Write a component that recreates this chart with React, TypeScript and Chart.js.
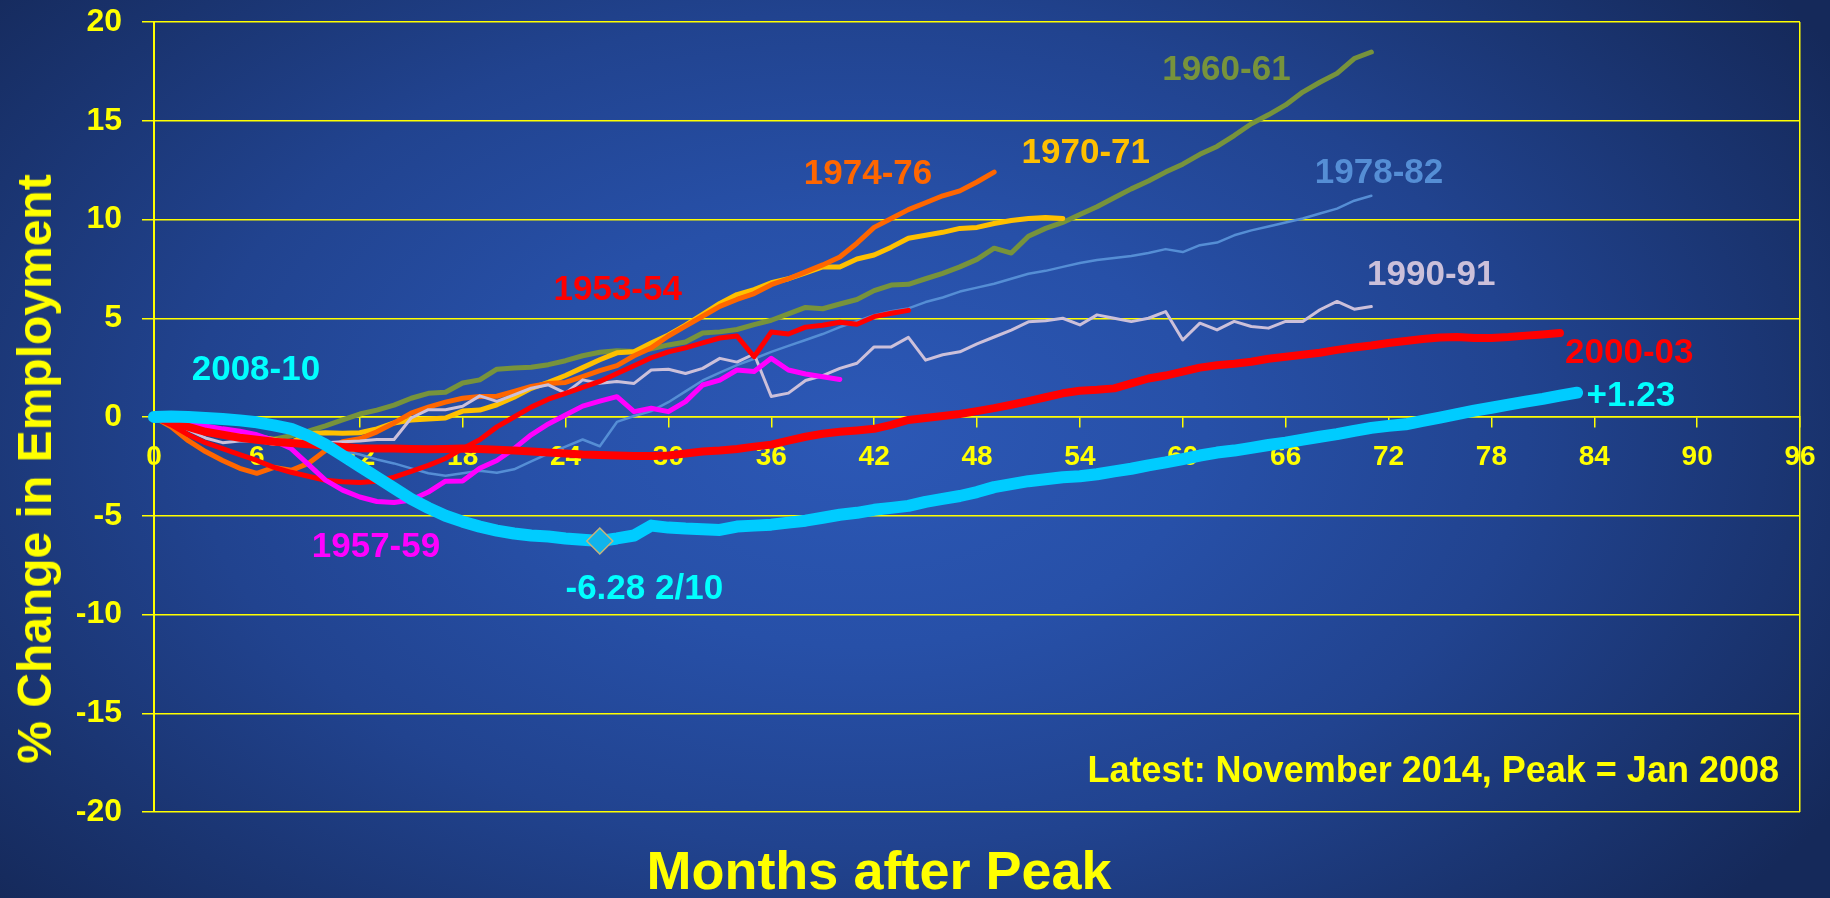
import React, { useEffect, useRef } from 'react';
import { Chart, registerables } from 'chart.js';

Chart.register(...registerables);

// ---- Data (percent change in employment, by months after peak) ----
const s2008_10 = [0, 0.02, 0, -0.05, -0.1, -0.17, -0.27, -0.42, -0.6, -0.95, -1.4, -1.95, -2.5, -3.05, -3.6, -4.15, -4.6, -5.0, -5.3, -5.55, -5.75, -5.9, -6.0, -6.05, -6.15, -6.22, -6.28, -6.15, -6.0, -5.5, -5.6, -5.65, -5.68, -5.72, -5.55, -5.5, -5.45, -5.35, -5.25, -5.1, -4.95, -4.85, -4.7, -4.6, -4.5, -4.3, -4.15, -4.0, -3.8, -3.55, -3.4, -3.25, -3.15, -3.05, -3.0, -2.9, -2.75, -2.62, -2.45, -2.3, -2.13, -1.95, -1.8, -1.7, -1.56, -1.42, -1.3, -1.15, -1.0, -0.87, -0.7, -0.55, -0.45, -0.37, -0.2, -0.03, 0.15, 0.32, 0.47, 0.63, 0.78, 0.92, 1.08, 1.23];
const s2000_03 = [0, -0.25, -0.5, -0.75, -0.9, -1.05, -1.15, -1.25, -1.32, -1.38, -1.45, -1.52, -1.58, -1.6, -1.6, -1.62, -1.63, -1.62, -1.6, -1.62, -1.66, -1.7, -1.75, -1.8, -1.85, -1.9, -1.93, -1.95, -1.97, -1.98, -1.95, -1.85, -1.75, -1.7, -1.62, -1.5, -1.4, -1.2, -1.0, -0.85, -0.75, -0.68, -0.6, -0.4, -0.15, -0.05, 0.05, 0.15, 0.3, 0.45, 0.62, 0.8, 1.0, 1.2, 1.33, 1.38, 1.45, 1.7, 1.95, 2.1, 2.3, 2.5, 2.62, 2.7, 2.8, 2.95, 3.05, 3.15, 3.25, 3.4, 3.52, 3.62, 3.75, 3.85, 3.95, 4.03, 4.05, 4.0, 4.0, 4.05, 4.12, 4.18, 4.25];
const s1953_54 = [0, -0.4, -0.9, -1.3, -1.6, -1.9, -2.2, -2.55, -2.8, -3.0, -3.2, -3.28, -3.32, -3.25, -3.05, -2.75, -2.45, -2.1, -1.6, -1.15, -0.5, 0.0, 0.5, 0.9, 1.2, 1.5, 1.8, 2.2, 2.6, 3.0, 3.3, 3.5, 3.75, 4.0, 4.1, 3.05, 4.3, 4.2, 4.55, 4.65, 4.8, 4.7, 5.08, 5.25, 5.4];
const s1957_59 = [0, -0.15, -0.3, -0.45, -0.6, -0.72, -0.9, -1.2, -1.6, -2.4, -3.2, -3.7, -4.05, -4.28, -4.33, -4.2, -3.8, -3.25, -3.24, -2.6, -2.2, -1.6, -0.9, -0.35, 0.1, 0.55, 0.8, 1.03, 0.27, 0.44, 0.27, 0.78, 1.62, 1.87, 2.38, 2.3, 2.97, 2.38, 2.18, 2.04, 1.9];
const s1960_61 = [0, -0.3, -0.55, -0.7, -0.85, -1.0, -1.1, -1.12, -0.95, -0.72, -0.45, -0.15, 0.15, 0.35, 0.6, 0.95, 1.2, 1.25, 1.72, 1.88, 2.42, 2.48, 2.52, 2.65, 2.85, 3.1, 3.28, 3.35, 3.32, 3.45, 3.65, 3.8, 4.25, 4.31, 4.43, 4.68, 4.9, 5.22, 5.55, 5.48, 5.72, 5.95, 6.4, 6.68, 6.72, 7.0, 7.27, 7.6, 7.98, 8.55, 8.3, 9.15, 9.55, 9.85, 10.25, 10.65, 11.1, 11.55, 11.95, 12.4, 12.8, 13.3, 13.7, 14.25, 14.85, 15.3, 15.8, 16.45, 16.95, 17.4, 18.15, 18.48];
const s1970_71 = [0, -0.3, -0.45, -0.55, -0.65, -0.8, -0.97, -1.15, -1.3, -0.85, -0.8, -0.82, -0.8, -0.6, -0.3, -0.15, -0.1, -0.05, 0.3, 0.35, 0.62, 1.0, 1.45, 1.75, 2.1, 2.5, 2.9, 3.25, 3.3, 3.75, 4.15, 4.65, 5.2, 5.75, 6.2, 6.45, 6.8, 7.0, 7.3, 7.6, 7.6, 8.0, 8.2, 8.6, 9.05, 9.2, 9.35, 9.55, 9.6, 9.8, 9.95, 10.05, 10.1, 10.05];
const s1974_76 = [0, -0.5, -1.2, -1.75, -2.2, -2.6, -2.85, -2.55, -2.7, -2.35, -1.7, -1.25, -1.1, -0.75, -0.3, 0.2, 0.5, 0.75, 0.95, 1.04, 1.05, 1.3, 1.55, 1.7, 1.75, 2.05, 2.35, 2.6, 3.1, 3.5, 4.1, 4.6, 5.1, 5.6, 5.95, 6.25, 6.7, 7.0, 7.35, 7.7, 8.1, 8.8, 9.6, 10.05, 10.5, 10.85, 11.2, 11.45, 11.9, 12.4];
const s1978_82 = [0, -0.2, -0.4, -0.6, -0.8, -0.95, -1.05, -1.15, -1.25, -1.35, -1.5, -1.7, -1.9, -2.15, -2.35, -2.6, -2.85, -2.97, -2.85, -2.72, -2.82, -2.65, -2.25, -1.85, -1.5, -1.14, -1.48, -0.25, 0.05, 0.3, 0.75, 1.3, 1.85, 2.25, 2.63, 2.95, 3.3, 3.6, 3.9, 4.2, 4.55, 4.85, 5.15, 5.35, 5.5, 5.82, 6.05, 6.35, 6.55, 6.75, 7.0, 7.25, 7.4, 7.6, 7.8, 7.95, 8.05, 8.15, 8.3, 8.5, 8.35, 8.7, 8.83, 9.2, 9.45, 9.65, 9.85, 10.05, 10.3, 10.55, 10.95, 11.2];
const s1990_91 = [0, -0.2, -0.65, -1.06, -1.3, -1.22, -1.22, -1.39, -1.2, -1.25, -1.3, -1.25, -1.22, -1.14, -1.14, -0.05, 0.37, 0.37, 0.54, 1.07, 0.79, 1.12, 1.46, 1.63, 1.21, 1.88, 1.71, 1.8, 1.7, 2.38, 2.42, 2.2, 2.46, 2.97, 2.78, 3.19, 1.04, 1.21, 1.85, 2.1, 2.46, 2.72, 3.55, 3.55, 4.03, 2.88, 3.15, 3.3, 3.7, 4.05, 4.4, 4.82, 4.87, 5.0, 4.66, 5.17, 5.0, 4.83, 5.0, 5.34, 3.9, 4.75, 4.41, 4.84, 4.58, 4.5, 4.84, 4.84, 5.43, 5.85, 5.46, 5.59];

const xMin = 0;
const xMax = 96;
const xStep = 6;
const yMin = -20;
const yMax = 20;
const yStep = 5;

// Series annotation labels (data coordinates: month, % change)
const labelTexts = ['2008-10', '1953-54', '1957-59', '-6.28 2/10', '1974-76', '1970-71', '1960-61', '1978-82', '1990-91', '2000-03', '+1.23'];
const labelMonths = [2.2, 23.3, 9.2, 24.0, 37.9, 50.6, 58.8, 67.7, 70.75, 82.3, 83.55];
const labelValues = [2.38, 6.4, -6.6, -8.74, 12.28, 13.35, 17.54, 12.35, 7.16, 3.22, 1.04];
const labelColors = ['#00ffff', '#ff0000', '#ff00ff', '#00ffff', '#ff6600', '#ffc000', '#77933c', '#558ed5', '#ccc0da', '#ff0000', '#00ffff'];

const YELLOW = '#ffff00';
const FONT = '"Liberation Sans", Arial, Helvetica, sans-serif';

const toXY = (arr: number[]) => arr.map((v, i) => ({ x: i, y: v }));

const labelPlugin = {
  id: 'seriesLabels',
  afterDatasetsDraw(chart: any) {
    const { ctx, scales } = chart;
    const x = scales.x;
    const y = scales.y;
    ctx.save();
    ctx.font = `bold 35px ${FONT}`;
    ctx.textBaseline = 'middle';
    ctx.textAlign = 'left';
    labelTexts.forEach((t, i) => {
      ctx.fillStyle = labelColors[i];
      ctx.fillText(t, x.getPixelForValue(labelMonths[i]), y.getPixelForValue(labelValues[i]));
    });
    ctx.restore();
  },
};

export default function App() {
  const ref = useRef<HTMLCanvasElement>(null);

  useEffect(() => {
    document.body.style.margin = '0';
    if (!ref.current) return;
    let troughIdx = 0;
    s2008_10.forEach((v, i) => {
      if (v < s2008_10[troughIdx]) troughIdx = i;
    });
    const line = (label: string, data: number[], color: string, width: number) => ({
      label,
      data: toXY(data),
      borderColor: color,
      backgroundColor: color,
      borderWidth: width,
      pointRadius: 0,
      pointHoverRadius: 0,
      borderCapStyle: 'round' as const,
      borderJoinStyle: 'round' as const,
      tension: 0,
      fill: false,
      clip: false as const,
    });
    const chart = new Chart(ref.current, {
      type: 'line',
      data: {
        datasets: [
          {
            label: 'trough',
            data: [{ x: troughIdx, y: s2008_10[troughIdx] }],
            showLine: false,
            pointStyle: 'rectRot',
            pointRadius: 13,
            pointHoverRadius: 13,
            backgroundColor: '#10b4ec',
            borderColor: '#c8b47a',
            borderWidth: 1.5,
            clip: false,
          } as any,
          line('2008-10', s2008_10, '#00ccff', 12),
          line('2000-03', s2000_03, '#ff0000', 8),
          line('1957-59', s1957_59, '#ff00ff', 5),
          line('1953-54', s1953_54, '#ff0000', 5),
          line('1990-91', s1990_91, '#ccc0da', 3),
          line('1978-82', s1978_82, '#558ed5', 2.5),
          line('1974-76', s1974_76, '#ff6600', 5),
          line('1970-71', s1970_71, '#ffc000', 5),
          line('1960-61', s1960_61, '#77933c', 5),
        ],
      },
      options: {
        animation: false,
        responsive: false,
        devicePixelRatio: 1,
        events: [],
        layout: { padding: { left: 0, top: 22, right: 30, bottom: 86 } },
        plugins: {
          legend: { display: false },
          tooltip: { enabled: false },
          title: { display: false },
        },
        scales: {
          x: {
            type: 'linear',
            position: { y: 0 } as any,
            min: xMin,
            max: xMax,
            ticks: {
              stepSize: xStep,
              color: YELLOW,
              padding: 13,
              maxRotation: 0,
              autoSkip: false,
              font: { family: FONT, size: 28, weight: 'bold' },
            },
            grid: {
              drawOnChartArea: true,
              drawTicks: true,
              tickLength: 10,
              lineWidth: 1.5,
              color: (ctx: any) => (ctx.tick && ctx.tick.value === xMax ? YELLOW : 'rgba(0,0,0,0)'),
              tickColor: YELLOW,
              tickWidth: 1.5,
            },
            border: { display: true, color: YELLOW, width: 1.5 },
          },
          y: {
            type: 'linear',
            position: 'left',
            min: yMin,
            max: yMax,
            afterFit: (scale: any) => {
              scale.width = 154;
              scale.paddingTop = 0;
              scale.paddingBottom = 0;
            },
            ticks: {
              stepSize: yStep,
              color: YELLOW,
              padding: 20,
              font: { family: FONT, size: 32, weight: 'bold' },
            },
            grid: {
              color: YELLOW,
              lineWidth: 1.5,
              tickLength: 12,
              drawTicks: true,
              tickColor: YELLOW,
            },
            border: { display: true, color: YELLOW, width: 2 },
          },
        },
      },
      plugins: [labelPlugin],
    });
    return () => chart.destroy();
  }, []);

  return (
    <div
      style={{
        position: 'fixed',
        left: 0,
        top: 0,
        width: 1830,
        height: 898,
        overflow: 'hidden',
        fontFamily: FONT,
        background:
          'radial-gradient(ellipse 1150px 720px at 860px 430px, #2c58b6 0%, #2750a8 30%, #21438f 58%, #1a3470 82%, #15295a 100%)',
      }}
    >
      <canvas
        ref={ref}
        width={1830}
        height={898}
        style={{ position: 'absolute', left: 0, top: 0, width: 1830, height: 898 }}
      />
      <div
        style={{
          position: 'absolute',
          left: 35,
          top: 469,
          transform: 'translate(-50%, -50%) rotate(-90deg)',
          whiteSpace: 'nowrap',
          color: YELLOW,
          fontWeight: 'bold',
          fontSize: 48,
          lineHeight: 1,
        }}
      >
        % Change in Employment
      </div>
      <div
        style={{
          position: 'absolute',
          left: 879,
          top: 870,
          transform: 'translate(-50%, -50%)',
          whiteSpace: 'nowrap',
          color: YELLOW,
          fontWeight: 'bold',
          fontSize: 54,
          lineHeight: 1,
        }}
      >
        Months after Peak
      </div>
      <div
        style={{
          position: 'absolute',
          right: 1830 - 1779,
          top: 770,
          transform: 'translateY(-50%)',
          whiteSpace: 'nowrap',
          color: YELLOW,
          fontWeight: 'bold',
          fontSize: 36,
          lineHeight: 1,
        }}
      >
        Latest: November 2014, Peak = Jan 2008
      </div>
    </div>
  );
}
